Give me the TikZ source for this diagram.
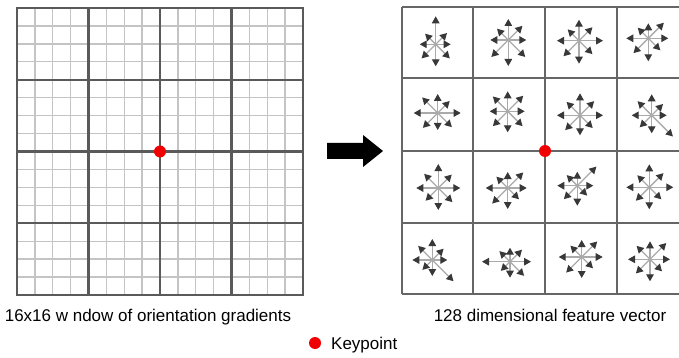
\documentclass[tikz,border=0pt]{standalone}
\usepackage{fontspec}
\setmainfont{Liberation Sans}
\usetikzlibrary{arrows.meta}
\definecolor{majorgrid}{HTML}{5A5A5A}
\definecolor{minorgrid}{HTML}{C4C4C4}
\definecolor{cellborder}{HTML}{666666}
\definecolor{shaftgrey}{HTML}{AAAAAA}
\definecolor{tipgrey}{HTML}{383838}
\definecolor{keyred}{HTML}{F00000}
\tikzset{
  minorline/.style={draw=minorgrid, line width=1.3pt},
  majorline/.style={draw=majorgrid, line width=2.2pt},
  cellline/.style={draw=cellborder, line width=2.5pt},
  histarrow/.style={draw=shaftgrey, line width=1.3pt,
    -{Triangle[length=7pt,width=7.5pt,color=tipgrey]}},
  keydot/.style={circle, fill=keyred, inner sep=0pt, minimum size=12pt},
  caption/.style={inner sep=0pt, anchor=base, font=\fontsize{17}{20}\selectfont},
}
% one orientation histogram: centre x, centre y, lengths for E,NE,N,NW,W,SW,S,SE
\newcommand\orihist[3]{%
  \foreach \len [count=\k from 0] in {#3} {
    \draw[histarrow] (#1,#2) -- ++(\k*45:\len pt);
  }
}
\begin{document}
\begin{tikzpicture}[x=1pt,y=-1pt]
\useasboundingbox (0,0) rectangle (679,358);
\fill[white] (0,0) rectangle (679,358);

% --- left: 16x16 sample window ---
\foreach \i in {1,...,15} {
  \draw[minorline] ({17+\i*286/16},8) -- ({17+\i*286/16},295);
  \draw[minorline] (17,{8+\i*287/16}) -- (303,{8+\i*287/16});
}
\foreach \i in {1,2,3} {
  \draw[majorline] ({17+\i*286/4},8) -- ({17+\i*286/4},295);
  \draw[majorline] (17,{8+\i*287/4}) -- (303,{8+\i*287/4});
}
\draw[majorline] (17,8) rectangle (303,295);
\node[keydot] (kpleft) at (160,151.5) {};

% --- block arrow ---
\fill[black] (327,143) -- (363,143) -- (363,135) -- (383,151) -- (363,167)
  -- (363,159) -- (327,159) -- cycle;

% --- right: 4x4 descriptor cells ---
\begin{scope}
\clip (390,0) rectangle (679,300);
\foreach \x in {402,473,545,617,689} \draw[cellline] (\x,7) -- (\x,294);
\foreach \y in {7,78,151,223,294} \draw[cellline] (402,\y) -- (689,\y);
\end{scope}

\orihist{435.7}{44.3}{15,16,28,15,16,20,22,20}
\orihist{508.3}{40}{18,20,21,16,18,24,26,24}
\orihist{579}{40.7}{24,19,21,16,22,22,23,19}
\orihist{648.3}{38.3}{20,22,15,15,22,21,23,17}

\orihist{437.7}{113}{23,17,19,22,24,21,17,20}
\orihist{507.7}{111.3}{17,22,20,21,18,21,21,21}
\orihist{580}{115.3}{23,20,22,19,23,21,20,18}
\orihist{651.7}{115.3}{15,16,21,20,20,17,18,30}

\orihist{438.3}{188}{22,19,24,20,22,18,22,20}
\orihist{507.7}{188}{19,22,16,16,22,22,21,16}
\orihist{577.3}{185.7}{16,27,14,15,20,19,20,14}
\orihist{649.3}{187.3}{24,20,23,17,23,19,22,17}

\orihist{432.3}{260}{15,16,21,20,20,14,16,30}
\orihist{510}{261.7}{21,17,14,15,28,13,16,20}
\orihist{581.7}{257}{21,22,17,16,23,22,21,16}
\orihist{650}{259.3}{20,23,18,19,22,20,22,17}

\node[keydot] (kpright) at (545,151) {};

% --- captions and legend ---
\node[caption] (capleft) at (148,321) {16x16 w ndow of orientation gradients};
\node[caption] (capright) at (550,321) {128 dimensional feature vector};
\node[keydot] (legdot) at (315,343) {};
\node[caption, anchor=base west] (legtext) at (331,349) {Keypoint};
\end{tikzpicture}
\end{document}
